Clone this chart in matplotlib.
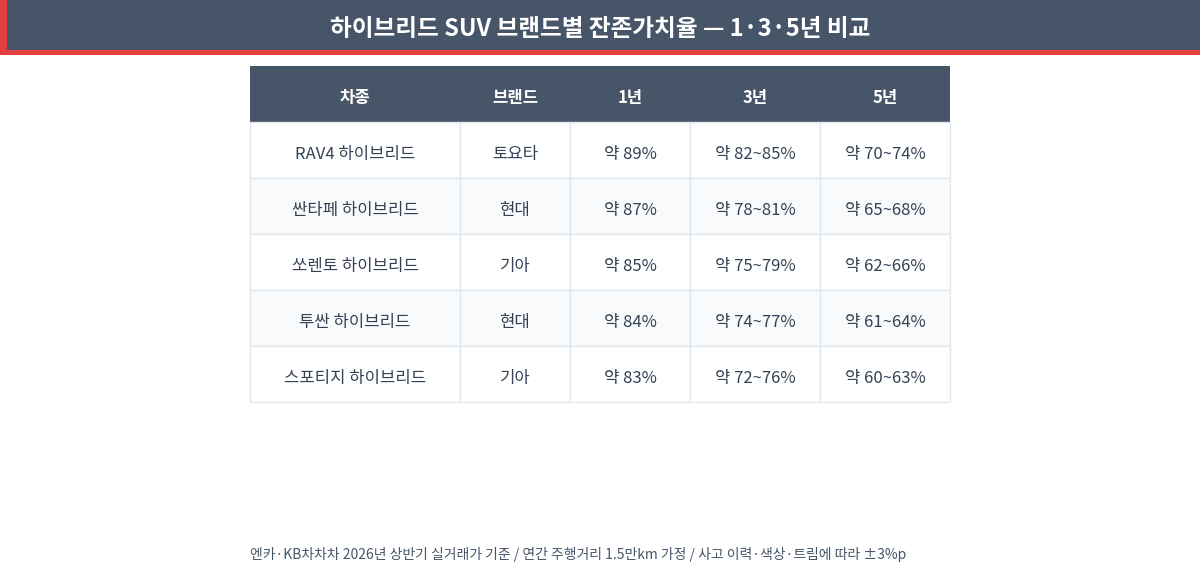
import matplotlib
matplotlib.use('Agg')
import matplotlib.pyplot as plt
from matplotlib.patches import Rectangle

plt.rcParams['font.family'] = ['Noto Sans CJK KR', 'DejaVu Sans']

title = '하이브리드 SUV 브랜드별 잔존가치율 — 1·3·5년 비교'
columns = ['차종', '브랜드', '1년', '3년', '5년']
models = ['RAV4 하이브리드', '싼타페 하이브리드', '쏘렌토 하이브리드', '투싼 하이브리드', '스포티지 하이브리드']
brands = ['토요타', '현대', '기아', '현대', '기아']
year1 = ['약 89%', '약 87%', '약 85%', '약 84%', '약 83%']
year3 = ['약 82~85%', '약 78~81%', '약 75~79%', '약 74~77%', '약 72~76%']
year5 = ['약 70~74%', '약 65~68%', '약 62~66%', '약 61~64%', '약 60~63%']
note = '엔카·KB차차차 2026년 상반기 실거래가 기준 / 연간 주행거리 1.5만km 가정 / 사고 이력·색상·트림에 따라 ±3%p'

# layout (pixels)
col_edges = [250, 460, 570, 690, 820, 950]
head_top, head_h, row_h = 66, 56, 56
dark = '#475569'
red = '#e53e3e'
grid = '#e2e8f0'
txt = '#334155'

fig = plt.figure(figsize=(12, 5.7), dpi=100)
ax = fig.add_axes([0, 0, 1, 1])
ax.set_xlim(0, 1200)
ax.set_ylim(570, 0)
ax.axis('off')

# title bar
ax.add_patch(Rectangle((0, 0), 1200, 55, color=red, lw=0))
ax.add_patch(Rectangle((7, 0), 1193, 50, color=dark, lw=0))
ax.text(600, 29, title, color='white', fontsize=17, fontweight='bold',
        ha='center', va='center')

# header
ax.add_patch(Rectangle((col_edges[0], head_top), col_edges[-1] - col_edges[0], head_h,
                       color=dark, lw=0))
for i, c in enumerate(columns):
    xc = (col_edges[i] + col_edges[i + 1]) / 2
    ax.text(xc, head_top + head_h / 2 + 4, c, color='white', fontsize=12,
            fontweight='bold', ha='center', va='center')

rows = list(zip(models, brands, year1, year3, year5))
for r, row in enumerate(rows):
    y0 = head_top + head_h + r * row_h
    bg = '#f8fafc' if r % 2 == 1 else 'white'
    for i, val in enumerate(row):
        ax.add_patch(Rectangle((col_edges[i], y0), col_edges[i + 1] - col_edges[i], row_h,
                               facecolor=bg, edgecolor=grid, lw=1))
        xc = (col_edges[i] + col_edges[i + 1]) / 2
        ax.text(xc, y0 + row_h / 2 + 4, val, color=txt, fontsize=12,
                ha='center', va='center')

ax.text(250, 554, note, color=dark, fontsize=10, ha='left', va='center')

fig.savefig('out.png', dpi=100)
